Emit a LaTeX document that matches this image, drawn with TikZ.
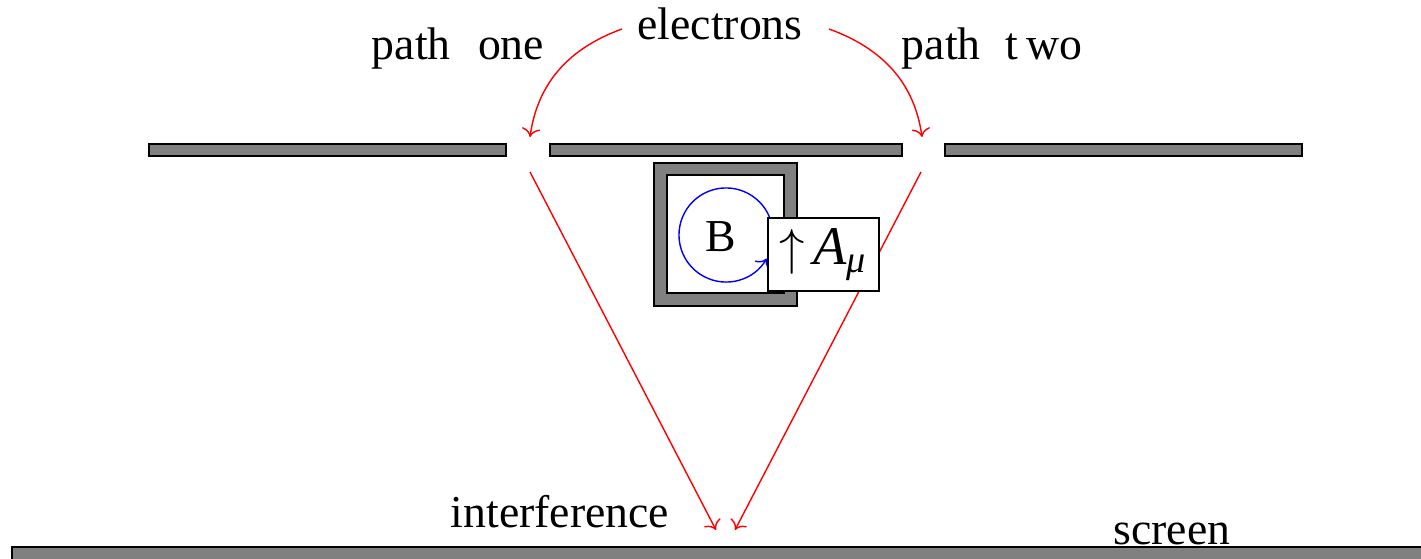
\documentclass[tikz,border=0pt]{standalone}
\usepackage{fontspec}
\setmainfont{Liberation Serif}
\usepackage{tikz}
\usetikzlibrary{arrows.meta, positioning, calc}

\begin{document}
\begin{tikzpicture}[
    x=0.01cm, y=-0.01cm,
    font=\fontsize{13}{15}\selectfont,
    bar/.style={draw, fill=gray, line width=0.5pt},
    eray/.style={->, red, line width=0.4pt},
    lbl/.style={inner sep=0pt, anchor=base}
  ]
  \useasboundingbox (0,0) rectangle (1421,559);
  \clip (0,0) rectangle (1421,559);
  % slit plate and screen
  \draw[bar] (149,144) rectangle (506,156);
  \draw[bar] (550,144) rectangle (902,156);
  \draw[bar] (945,144) rectangle (1302,156);
  \draw[bar] (12,547) rectangle (1440,575);
  % solenoid
  \draw[bar] (654,163) rectangle (797,306);
  \draw[fill=white, line width=0.5pt] (667,175) rectangle (784,293);
  \coordinate (bc) at (726,235);
  \draw[blue, ->, line width=0.4pt] ($(bc)+(-28:0.47cm)$) arc[start angle=-28, end angle=330, radius=0.47cm];
  \node (bfield) at (721,237) {B};
  % labels
  \node[lbl] (elec) at (720,40) {electrons};
  \node[lbl] (pone) at (458,60) {path\hspace{0.6em}one};
  \node[lbl] (ptwo) at (992,60) {path\hspace{0.55em}t\,wo};
  \node[lbl] (interf) at (560,528) {interference};
  \node[lbl] (scrn) at (1172,545) {screen};
  % electron paths
  \coordinate (e1) at (622,29);
  \coordinate (e2) at (829,29);
  \coordinate (s1in) at (530,137);
  \coordinate (s2in) at (922,137);
  \coordinate (s1out) at (530,172);
  \coordinate (s2out) at (921,172);
  \coordinate (hit1) at (716,530);
  \coordinate (hit2) at (735,530);
  \draw[eray] (e1) to[out=200, in=82] (s1in);
  \draw[eray] (e2) to[out=-20, in=98] (s2in);
  \draw[eray] (s1out) -- (hit1);
  \draw[eray] (s2out) -- (hit2);
  % vector potential
  \node[draw, fill=white, line width=0.5pt, minimum width=1.11cm, minimum height=0.73cm,
        inner sep=0pt, font=\fontsize{15.5}{18}\selectfont] (amu) at (823.5,254.5)
        {$\uparrow$\,\textit{A}\textsubscript{\textit{μ}}};
\end{tikzpicture}
\end{document}
